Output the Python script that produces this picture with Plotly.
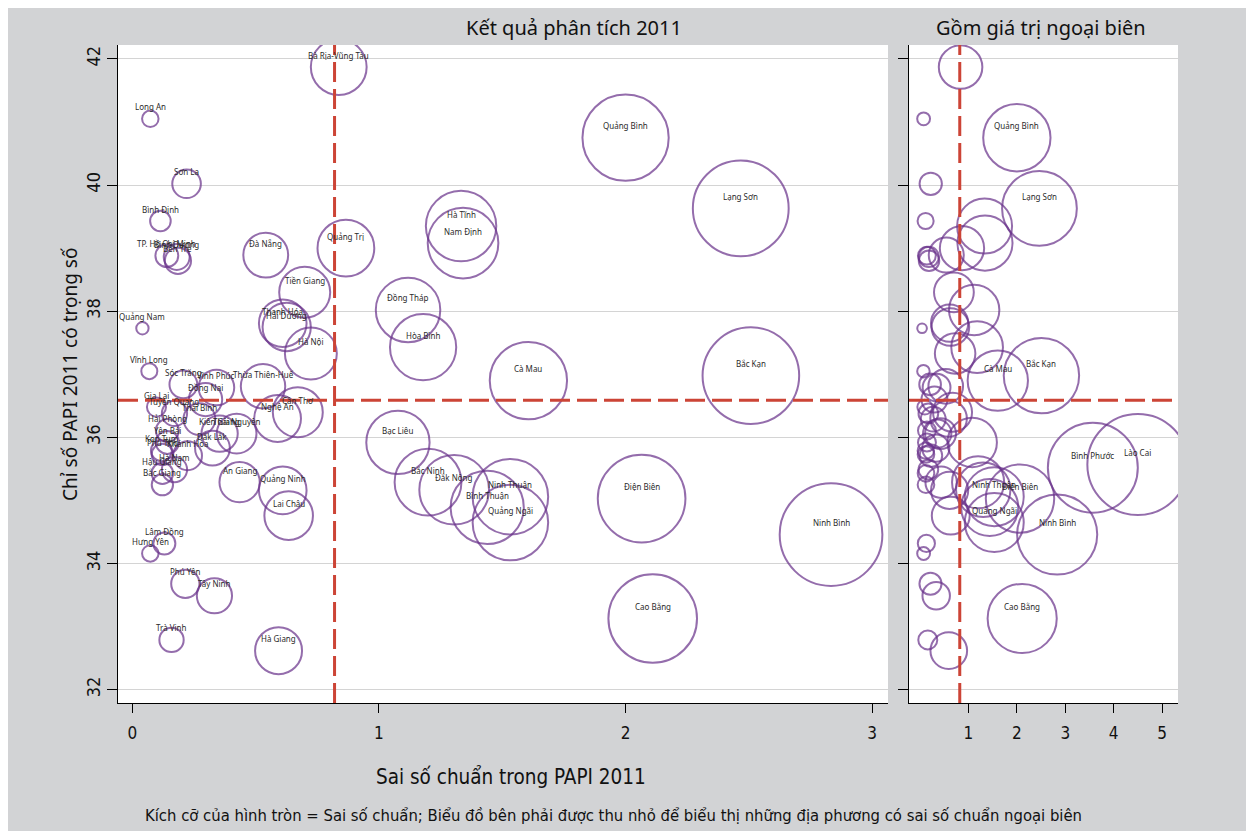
import plotly.graph_objects as go

# ---------------- data ----------------
provinces = [
    "Bà Rịa-Vũng Tàu", "Long An", "Sơn La", "Bình Định", "TP. Hồ Chí Minh", "Bình Dương", "Bến Tre",
    "Đà Nẵng", "Quảng Trị", "Tiền Giang", "Thanh Hóa", "Hải Dương", "Hà Nội", "Quảng Nam",
    "Vĩnh Long", "Sóc Trăng", "Vĩnh Phúc", "Thừa Thiên-Huế", "Đồng Nai", "Gia Lai", "Tuyên Quang",
    "Thái Bình", "Cần Thơ", "Nghệ An", "Hải Phòng", "Kiên Giang", "Thái Nguyên", "Yên Bái",
    "Đắk Lắk", "Kon Tum", "Phú Thọ", "Khánh Hòa", "Hà Nam", "Hậu Giang", "Bắc Giang",
    "An Giang", "Quảng Ninh", "Lai Châu", "Lâm Đồng", "Hưng Yên", "Phú Yên", "Tây Ninh",
    "Trà Vinh", "Hà Giang", "Đồng Tháp", "Hòa Bình", "Hà Tĩnh", "Nam Định", "Bạc Liêu",
    "Bắc Ninh", "Đắk Nông", "Bình Thuận", "Ninh Thuận", "Quảng Ngãi", "Cà Mau", "Quảng Bình",
    "Lạng Sơn", "Bắc Kạn", "Điện Biên", "Cao Bằng", "Ninh Bình", "Bình Phước", "Lào Cai",
]
std_error = [
    0.837, 0.073, 0.220, 0.114, 0.140, 0.180, 0.185,
    0.541, 0.866, 0.699, 0.610, 0.626, 0.724, 0.041,
    0.069, 0.207, 0.341, 0.530, 0.297, 0.098, 0.171,
    0.272, 0.671, 0.589, 0.142, 0.354, 0.423, 0.142,
    0.325, 0.118, 0.122, 0.224, 0.171, 0.122, 0.122,
    0.435, 0.610, 0.634, 0.130, 0.073, 0.215, 0.333,
    0.159, 0.593, 1.118, 1.179, 1.333, 1.341, 1.077,
    1.199, 1.305, 1.439, 1.533, 1.533, 1.606, 2.000,
    2.467, 2.508, 2.065, 2.110, 2.833, 3.570, 4.500,
]
papi_2011 = [
    41.87, 41.05, 40.02, 39.43, 38.88, 38.86, 38.80,
    38.89, 39.00, 38.30, 37.81, 37.75, 37.33, 37.73,
    37.05, 36.84, 36.79, 36.81, 36.60, 36.48, 36.38,
    36.29, 36.40, 36.30, 36.11, 36.06, 36.06, 35.92,
    35.83, 35.79, 35.73, 35.71, 35.49, 35.43, 35.25,
    35.29, 35.16, 34.76, 34.32, 34.16, 33.68, 33.49,
    32.79, 32.62, 38.02, 37.43, 39.35, 39.08, 35.92,
    35.29, 35.17, 34.89, 35.06, 34.65, 36.90, 40.75,
    39.63, 36.98, 35.03, 33.13, 34.46, 35.52, 35.57,
]
ref_se = 0.82        # vertical reference line
ref_papi = 36.59     # horizontal reference line
left_max_se = 3.0    # provinces shown in the left panel
right_label_min = 1.5  # provinces labelled in the right panel

left_xticks = [0, 1, 2, 3]
right_xticks = [1, 2, 3, 4, 5]
yticks = [32, 34, 36, 38, 40, 42]

# ---------------- style ----------------
PURPLE = "#68308a"
RED = "#cc4436"
GRAY = "#d2d3d5"
COND = "DejaVu Sans Condensed, Liberation Sans Narrow, sans-serif"
SANS = "Noto Sans, Open Sans, sans-serif"

OFF = 8  # page offset of the figure inside the browser window
W, H = 1254, 831
ML, MR, MT, MB = 118 - OFF, 84, 45 - OFF, 136
PW, PH = W - ML - MR, H - MT - MB

left_idx = [i for i, s in enumerate(std_error) if s <= left_max_se]

fig = go.Figure()
fig.add_trace(go.Scatter(
    x=[std_error[i] for i in left_idx], y=[papi_2011[i] for i in left_idx],
    mode="markers", xaxis="x", yaxis="y", hoverinfo="skip",
    marker=dict(size=[std_error[i] for i in left_idx], sizemode="area", sizeref=2 / 61.0 ** 2,
                color="rgba(0,0,0,0)", line=dict(color=PURPLE, width=2)),
))
fig.add_trace(go.Scatter(
    x=std_error, y=papi_2011, mode="markers", xaxis="x2", yaxis="y2", hoverinfo="skip",
    marker=dict(size=std_error, sizemode="area", sizeref=2 / 47.6 ** 2,
                color="rgba(0,0,0,0)", line=dict(color=PURPLE, width=2)),
))

annotations = []
lab_font = dict(family=SANS, size=8, color="#2a2a2a")
for i in left_idx:
    annotations.append(dict(x=std_error[i], y=papi_2011[i], xref="x", yref="y", text=provinces[i],
                            showarrow=False, yshift=12, font=lab_font))
for i, s in enumerate(std_error):
    if s >= right_label_min:
        annotations.append(dict(x=s, y=papi_2011[i], xref="x2", yref="y2", text=provinces[i],
                                showarrow=False, yshift=12, font=lab_font))


def px_x(p):
    return (p - OFF - ML) / PW


def px_y(p):
    return (H - MB - (p - OFF)) / PH


def txt(x, y, text, font, size, **kw):
    d = dict(x=px_x(x), y=px_y(y), xref="paper", yref="paper", text=text, showarrow=False,
             xanchor="center", yanchor="middle", font=dict(family=font, size=size, color="#111111"))
    d.update(kw)
    return d


annotations += [
    txt(574, 28, "Kết quả phân tích 2011", SANS, 20),
    txt(1041, 28, "Gồm giá trị ngoại biên", SANS, 20),
    txt(70, 375, "Chỉ số PAPI 2011 có trọng số", SANS, 19, textangle=-90),
    txt(511, 777, "Sai số chuẩn trong PAPI 2011", COND, 20.5),
    txt(143, 815, "Kích cỡ của hình tròn = Sai số chuẩn; Biểu đồ bên phải được thu nhỏ để biểu thị những địa phương có sai số chuẩn ngoại biên",
        COND, 16.5, xanchor="left"),
]

dash = "20px,7px"
shapes = []
for xa, ya in (("x", "y"), ("x2", "y2")):
    shapes.append(dict(type="line", xref=xa, yref=ya + " domain", x0=ref_se, x1=ref_se, y0=0, y1=1,
                       line=dict(color=RED, width=3, dash=dash)))
    shapes.append(dict(type="line", xref=xa + " domain", yref=ya, x0=0, x1=1, y0=ref_papi, y1=ref_papi,
                       line=dict(color=RED, width=3, dash=dash)))

xcommon = dict(showgrid=False, zeroline=False, showline=True, linecolor="black", linewidth=1,
               ticks="outside", ticklen=9, tickcolor="black", ticklabelstandoff=6,
               tickfont=dict(family=COND, size=17, color="#111111"))
ycommon = dict(range=[31.79, 42.22], tickvals=yticks, showgrid=True, gridcolor="#d4d4d4", gridwidth=1,
               zeroline=False, showline=True, linecolor="black", linewidth=1,
               ticks="outside", ticklen=10, tickcolor="black")

fig.update_layout(
    width=W, height=H, autosize=False,
    margin=dict(l=ML, r=MR, t=MT, b=MB),
    paper_bgcolor=GRAY, plot_bgcolor="white", showlegend=False,
    xaxis=dict(domain=[0, 770 / PW], range=[-0.058, 3.064], tickvals=left_xticks, **xcommon),
    xaxis2=dict(domain=[791 / PW, 1], range=[-0.229, 5.33], tickvals=right_xticks, **xcommon),
    yaxis=dict(anchor="x", tickangle=-90, tickfont=dict(family=COND, size=18, color="#111111"), **ycommon),
    yaxis2=dict(anchor="x2", matches="y", showticklabels=False, **ycommon),
    annotations=annotations, shapes=shapes,
)

fig.write_html("out.html")
